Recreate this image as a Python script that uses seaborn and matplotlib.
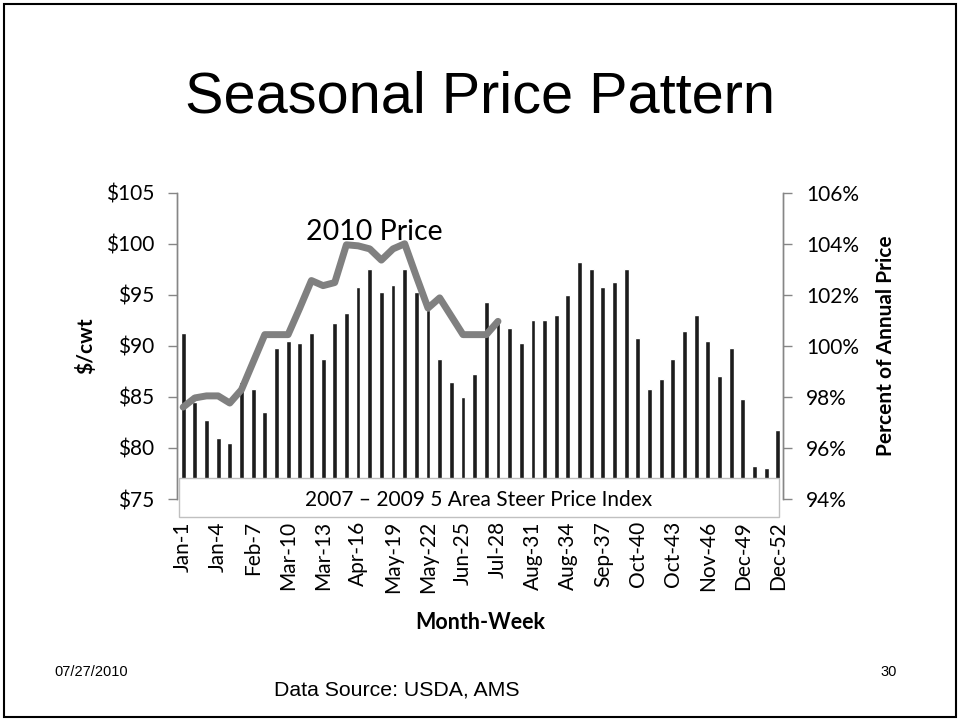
"""Seasonal price pattern: 2007-2009 index bars with 2010 price line."""

import matplotlib.pyplot as plt
import matplotlib.patches as mpatches
import numpy as np
import pandas as pd
import seaborn as sns

# weekly index, percent of annual price (2007-2009 average)
weeks = list(range(1, 53))
index_pct = [
    100.5, 97.8, 97.1, 96.4, 96.2, 98.6, 98.3, 97.4, 99.9, 100.2,
    100.1, 100.5, 99.5, 100.9, 101.3, 102.3, 103.0, 102.1, 102.4, 103.0,
    102.1, 101.4, 99.5, 98.6, 98.0, 98.9, 101.7, 101.1, 100.7, 100.1,
    101.0, 101.0, 101.2, 102.0, 103.3, 103.0, 102.3, 102.5, 103.0, 100.3,
    98.3, 98.7, 99.5, 100.6, 101.2, 100.2, 98.8, 99.9, 97.9, 95.3,
    95.2, 96.7,
]

# 2010 price, $/cwt, weeks 1-28
weeks_2010 = list(range(1, 29))
price_2010 = [
    84.0, 84.9, 85.1, 85.1, 84.4, 85.7, 88.4, 91.1, 91.1, 91.1,
    93.7, 96.4, 95.9, 96.2, 99.9, 99.8, 99.5, 98.4, 99.5, 100.0,
    96.8, 93.7, 94.7, 92.9, 91.1, 91.1, 91.1, 92.4,
]

tick_weeks = list(range(1, 53, 3))
tick_labels = [
    "Jan-1", "Jan-4", "Feb-7", "Mar-10", "Mar-13", "Apr-16", "May-19",
    "May-22", "Jun-25", "Jul-28", "Aug-31", "Aug-34", "Sep-37", "Oct-40",
    "Oct-43", "Nov-46", "Dec-49", "Dec-52",
]
price_ticks = [75, 80, 85, 90, 95, 100, 105]
pct_ticks = [94, 96, 98, 100, 102, 104, 106]

bars_df = pd.DataFrame({"week": weeks, "pct": index_pct})
line_df = pd.DataFrame({"pos": [w - 1 for w in weeks_2010], "price": price_2010})

sns.set_style("white")
plt.rcParams["font.family"] = ["Lato", "DejaVu Sans"]
plt.rcParams["text.color"] = "black"
plt.rcParams["axes.labelcolor"] = "black"
plt.rcParams["xtick.color"] = "black"
plt.rcParams["ytick.color"] = "black"

fig = plt.figure(figsize=(9.6, 7.21), dpi=100)
ax = fig.add_axes([0.1847, 0.3079, 0.631, 0.4248])

# bars live on the right-hand percent axis
sns.barplot(data=bars_df, x="week", y="pct", color="#1c1c1c", width=0.42,
            saturation=1, ax=ax, zorder=2)
ax.set_ylim(94, 106)
ax.set_xlim(-0.5, 51.45)

# 2010 price on the left-hand $ axis
ax2 = ax.twinx()
sns.lineplot(data=line_df, x="pos", y="price", color="#808080", linewidth=5,
             ax=ax2, zorder=3)
ax2.set_ylim(75, 105)
ax2.set_xlim(-0.5, 51.45)

# twinx resets the first axis to the left, so assign sides afterwards
ax.yaxis.tick_right()
ax.yaxis.set_label_position("right")
ax.set_yticks(pct_ticks)
ax.set_yticklabels([f"{t}%" for t in pct_ticks])
ax.set_ylabel("Percent of Annual Price", fontsize=15, fontweight="bold",
              labelpad=12)
ax.set_xticks([w - 1 for w in tick_weeks])
ax.set_xticklabels(tick_labels, rotation=90, fontsize=15)
ax.tick_params(axis="x", length=0, pad=16)
ax.tick_params(axis="y", which="both", left=False, right=True, labelleft=False,
               labelright=True, length=6.5, width=1, color="#868686",
               labelcolor="black", labelsize=15, pad=10)
ax.set_xlabel("Month-Week", fontsize=15.5, fontweight="bold", labelpad=13)

ax2.yaxis.tick_left()
ax2.yaxis.set_label_position("left")
ax2.set_yticks(price_ticks)
ax2.set_yticklabels([f"${t}" for t in price_ticks])
ax2.set_ylabel("$/cwt", fontsize=15, fontweight="bold", labelpad=7)
ax2.tick_params(axis="y", which="both", left=True, right=False, labelleft=True,
                labelright=False, length=6.5, width=1, color="#868686",
                labelcolor="black", labelsize=15, pad=10)
ax2.text(16.4, 101.2, "2010 Price", fontsize=20.5, ha="center", va="center")

for a in (ax, ax2):
    for side in ("top", "bottom"):
        a.spines[side].set_visible(False)
    for side in ("left", "right"):
        a.spines[side].set_color("#868686")
        a.spines[side].set_linewidth(1)

# label box across the bottom of the bars
box = mpatches.Rectangle((0.003, -0.059), 0.99, 0.128, transform=ax2.transAxes,
                         facecolor="white", edgecolor="#c0c0c0", linewidth=1,
                         clip_on=False, zorder=5)
ax2.add_patch(box)
ax2.text(0.497, -0.003, "2007 \u2013 2009 5 Area Steer Price Index",
         transform=ax2.transAxes, fontsize=15, ha="center", va="center",
         zorder=6)

# slide frame and texts
fig.patches.append(mpatches.Rectangle((0.004, 0.005), 0.992, 0.99,
                                      transform=fig.transFigure, fill=False,
                                      edgecolor="black", linewidth=1.5))
fig.text(0.5, 0.865, "Seasonal Price Pattern", fontsize=41.5, ha="center",
         va="center", family="Liberation Sans")
fig.text(0.057, 0.068, "07/27/2010", fontsize=10.5, ha="left", va="center",
         family="Liberation Sans")
fig.text(0.413, 0.043, "Data Source: USDA, AMS", fontsize=15.3, ha="center",
         va="center", family="Liberation Sans")
fig.text(0.926, 0.068, "30", fontsize=10.5, ha="center", va="center",
         family="Liberation Sans")

fig.savefig("out.png", dpi=100)
